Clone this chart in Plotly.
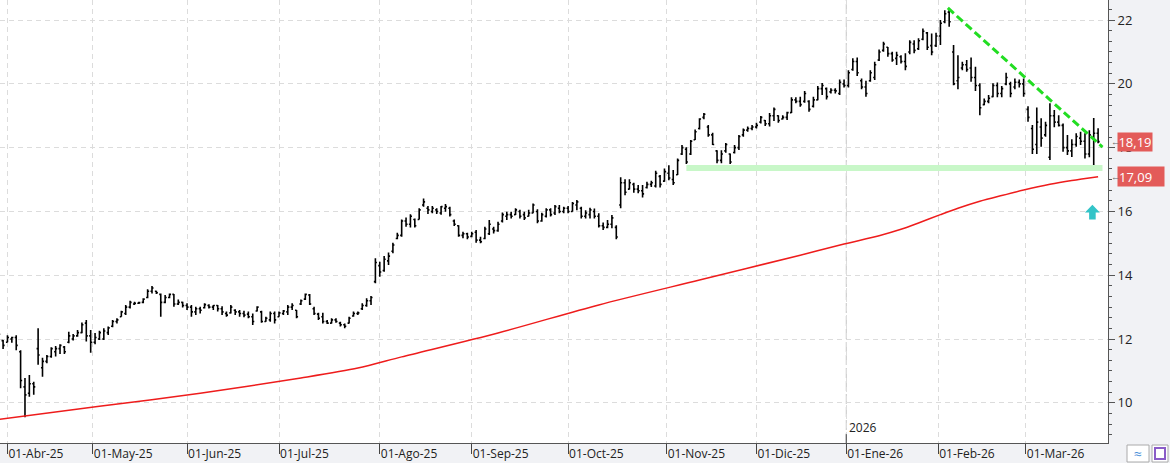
import plotly.graph_objects as go

# ---------------- data ----------------
bar_index = list(range(252))

opens = [12.10, 11.95, 11.90, 12.00, 12.05, 11.60, 10.50, 10.30, 10.60, 11.70,
         11.10, 11.30, 11.45, 11.60, 11.70, 11.75, 11.90, 12.00, 12.10, 12.20,
         12.50, 12.10, 11.90, 12.00, 12.00, 12.20, 12.40, 12.55, 12.70, 12.80,
         13.00, 13.10, 13.12, 13.15, 13.30, 13.50, 13.50, 13.40, 13.15, 13.30,
         13.40, 13.10, 13.15, 13.05, 13.00, 12.85, 12.95, 12.98, 13.05, 13.00,
         13.05, 12.95, 12.80, 12.82, 12.90, 12.85, 12.80, 12.78, 12.70, 12.88,
         12.85, 12.55, 12.60, 12.80, 12.70, 12.80, 12.85, 13.00, 12.90, 13.10,
         13.25, 13.38, 12.95, 12.78, 12.70, 12.55, 12.50, 12.60, 12.50, 12.45,
         12.50, 12.72, 12.80, 12.95, 13.05, 13.20, 13.80, 14.30, 14.15, 14.45,
         14.75, 15.15, 15.25, 15.70, 15.60, 15.75, 15.75, 16.20, 16.10, 16.00,
         16.05, 15.95, 16.10, 16.10, 15.70, 15.55, 15.25, 15.30, 15.22, 15.35,
         15.10, 15.15, 15.30, 15.45, 15.40, 15.70, 15.85, 15.90, 15.90, 16.00,
         15.90, 15.85, 15.95, 16.00, 15.70, 15.85, 16.05, 15.95, 16.10, 16.00,
         16.10, 16.00, 16.20, 16.10, 15.85, 15.90, 16.00, 15.85, 15.55, 15.50,
         15.60, 15.50, 16.20, 16.90, 16.70, 16.85, 16.70, 16.65, 16.75, 16.85,
         16.80, 17.10, 16.95, 17.20, 17.00, 17.15, 17.80, 17.95, 17.80, 18.25,
         18.60, 18.95, 18.65, 18.40, 17.90, 17.60, 17.90, 17.80, 17.85, 18.00,
         18.40, 18.55, 18.60, 18.65, 18.80, 18.85, 18.75, 19.00, 19.00, 18.90,
         18.95, 19.10, 19.50, 19.45, 19.45, 19.45, 19.30, 19.50, 19.85, 19.85,
         19.75, 19.80, 19.70, 20.00, 19.95, 20.45, 20.70, 20.10, 19.90, 20.10,
         20.20, 20.75, 21.05, 21.15, 20.95, 20.80, 20.85, 20.70, 21.00, 21.25,
         21.10, 21.40, 21.60, 21.20, 21.20, 21.50, 21.95, 22.25, 21.00, 20.10,
         20.50, 20.60, 20.50, 20.20, 19.95, 19.35, 19.45, 19.60, 19.95, 19.70,
         20.00, 20.00, 19.90, 20.05, 20.00, 19.20, 18.60, 18.10, 18.65, 18.40,
         17.70, 19.00, 18.80, 18.70, 18.00, 17.90, 18.10, 18.30, 18.20, 17.80,
         18.30, 18.45]

highs = [12.19, 11.97, 12.12, 12.07, 12.12, 11.65, 10.78, 10.87, 10.66, 12.34,
         11.41, 11.50, 11.74, 11.78, 11.84, 11.78, 12.23, 12.16, 12.28, 12.52,
         12.60, 12.28, 12.19, 12.26, 12.34, 12.39, 12.60, 12.65, 12.89, 13.07,
         13.20, 13.17, 13.17, 13.28, 13.56, 13.66, 13.51, 13.43, 13.38, 13.43,
         13.41, 13.24, 13.17, 13.12, 13.07, 13.01, 13.01, 13.12, 13.09, 13.07,
         13.07, 13.03, 12.86, 13.07, 12.93, 12.91, 12.89, 12.86, 12.80, 13.03,
         12.89, 12.70, 12.86, 12.86, 12.86, 12.91, 13.07, 13.12, 12.91, 13.24,
         13.43, 13.41, 13.01, 12.82, 12.82, 12.60, 12.65, 12.65, 12.54, 12.49,
         12.70, 12.86, 12.86, 13.12, 13.28, 13.35, 14.53, 14.42, 14.60, 14.71,
         15.02, 15.33, 15.75, 15.81, 15.91, 15.78, 16.10, 16.41, 16.17, 16.17,
         16.10, 16.17, 16.23, 16.15, 15.75, 15.57, 15.36, 15.33, 15.36, 15.42,
         15.21, 15.52, 15.73, 15.52, 15.68, 15.97, 15.99, 15.99, 16.10, 16.05,
         15.99, 16.05, 16.25, 16.07, 15.96, 16.10, 16.10, 16.20, 16.20, 16.15,
         16.17, 16.30, 16.36, 16.15, 16.04, 16.12, 16.09, 15.94, 15.65, 15.73,
         15.89, 15.57, 17.07, 17.01, 17.01, 16.90, 16.83, 16.83, 16.93, 16.96,
         17.28, 17.14, 17.35, 17.45, 17.30, 17.66, 18.08, 18.01, 18.24, 18.57,
         18.92, 19.09, 18.71, 18.47, 17.92, 17.92, 18.15, 17.82, 18.08, 18.40,
         18.60, 18.66, 18.71, 18.78, 18.99, 18.87, 19.09, 19.26, 19.02, 19.02,
         19.13, 19.58, 19.58, 19.60, 19.78, 19.49, 19.60, 19.93, 20.03, 19.89,
         19.86, 19.86, 20.14, 20.14, 20.43, 20.80, 20.83, 20.17, 20.10, 20.43,
         20.69, 21.08, 21.32, 21.16, 21.01, 21.01, 20.90, 20.96, 21.37, 21.37,
         21.43, 21.74, 21.63, 21.58, 21.60, 22.00, 22.31, 22.37, 21.22, 20.90,
         20.69, 20.75, 20.83, 20.54, 20.02, 19.54, 19.65, 20.02, 20.04, 19.93,
         20.35, 20.07, 20.17, 20.14, 20.17, 19.30, 18.71, 19.26, 18.92, 18.81,
         19.39, 19.18, 19.02, 18.76, 18.40, 18.26, 18.45, 18.50, 18.45, 18.55,
         18.93, 18.61]

lows = [12.06, 11.69, 11.90, 11.88, 11.65, 10.46, 9.55, 10.19, 10.25, 11.19,
        10.82, 11.24, 11.41, 11.45, 11.53, 11.53, 11.87, 11.95, 12.07, 12.18,
        11.92, 11.57, 11.84, 11.97, 11.97, 12.13, 12.37, 12.49, 12.70, 12.75,
        12.96, 13.07, 13.10, 13.12, 13.28, 13.43, 13.41, 12.70, 13.12, 13.28,
        13.01, 13.07, 12.99, 12.91, 12.70, 12.75, 12.80, 12.96, 12.96, 12.91,
        12.86, 12.75, 12.70, 12.80, 12.75, 12.70, 12.68, 12.65, 12.44, 12.86,
        12.51, 12.54, 12.54, 12.49, 12.70, 12.75, 12.75, 12.91, 12.65, 13.07,
        13.22, 13.07, 12.75, 12.60, 12.49, 12.47, 12.49, 12.51, 12.39, 12.34,
        12.49, 12.70, 12.75, 12.91, 13.01, 13.07, 13.75, 13.95, 14.11, 14.32,
        14.69, 15.13, 15.21, 15.52, 15.50, 15.50, 15.75, 16.15, 15.92, 15.94,
        15.92, 15.90, 15.99, 15.84, 15.54, 15.21, 15.16, 15.13, 15.19, 15.02,
        15.00, 15.13, 15.26, 15.31, 15.36, 15.65, 15.73, 15.78, 15.89, 15.78,
        15.73, 15.84, 15.94, 15.63, 15.68, 15.81, 15.84, 15.89, 15.94, 15.94,
        15.94, 15.99, 16.04, 15.78, 15.78, 15.78, 15.78, 15.50, 15.42, 15.47,
        15.47, 15.13, 16.10, 16.51, 16.69, 16.59, 16.57, 16.44, 16.72, 16.77,
        16.75, 16.75, 16.93, 16.98, 16.83, 17.14, 17.77, 17.49, 17.77, 18.24,
        18.57, 18.89, 18.34, 18.08, 17.51, 17.51, 17.84, 17.49, 17.82, 17.93,
        18.34, 18.50, 18.55, 18.60, 18.76, 18.68, 18.66, 18.84, 18.78, 18.88,
        18.87, 19.09, 19.39, 19.28, 19.41, 19.13, 19.26, 19.49, 19.65, 19.51,
        19.70, 19.70, 19.65, 19.89, 19.89, 20.41, 20.25, 19.83, 19.60, 20.07,
        20.12, 20.72, 21.01, 20.85, 20.69, 20.59, 20.64, 20.43, 20.93, 20.96,
        21.06, 21.37, 21.06, 20.90, 21.16, 21.22, 21.90, 21.79, 19.96, 19.83,
        20.43, 20.38, 20.07, 19.78, 19.02, 19.33, 19.39, 19.58, 19.58, 19.58,
        19.96, 19.58, 19.83, 19.89, 19.60, 18.81, 17.80, 17.80, 18.03, 18.34,
        17.61, 18.64, 18.66, 17.87, 17.77, 17.71, 18.03, 18.08, 17.66, 17.70,
        17.39, 18.14]

closes = [12.15, 11.80, 12.05, 12.05, 11.80, 10.70, 10.25, 10.60, 10.50, 11.50,
          11.30, 11.45, 11.70, 11.70, 11.80, 11.60, 12.10, 12.10, 12.20, 12.45,
          12.10, 11.90, 12.05, 12.20, 12.25, 12.35, 12.55, 12.60, 12.85, 13.00,
          13.15, 13.12, 13.14, 13.25, 13.50, 13.60, 13.45, 13.15, 13.30, 13.40,
          13.10, 13.15, 13.05, 13.00, 12.85, 12.95, 12.90, 13.08, 13.00, 13.05,
          12.95, 12.85, 12.75, 13.00, 12.85, 12.80, 12.75, 12.70, 12.55, 13.00,
          12.55, 12.65, 12.80, 12.60, 12.82, 12.88, 13.00, 13.05, 12.70, 13.20,
          13.40, 13.10, 12.80, 12.65, 12.55, 12.50, 12.60, 12.55, 12.45, 12.40,
          12.65, 12.80, 12.82, 13.05, 13.20, 13.30, 14.40, 14.10, 14.50, 14.60,
          14.95, 15.25, 15.70, 15.60, 15.85, 15.55, 16.05, 16.30, 16.05, 16.10,
          16.00, 16.15, 16.15, 15.90, 15.60, 15.25, 15.30, 15.20, 15.30, 15.10,
          15.05, 15.45, 15.60, 15.40, 15.60, 15.90, 15.90, 15.85, 16.05, 15.85,
          15.80, 15.95, 16.20, 15.70, 15.90, 16.05, 15.90, 16.15, 16.00, 16.10,
          16.00, 16.25, 16.30, 15.85, 15.95, 16.05, 15.85, 15.55, 15.50, 15.60,
          15.80, 15.20, 16.90, 16.60, 16.90, 16.70, 16.65, 16.55, 16.85, 16.90,
          17.20, 16.85, 17.25, 17.05, 16.90, 17.60, 18.00, 17.55, 18.20, 18.50,
          18.90, 19.05, 18.40, 18.10, 17.60, 17.80, 18.10, 17.55, 18.00, 18.35,
          18.55, 18.60, 18.65, 18.70, 18.95, 18.75, 19.00, 19.20, 18.85, 18.95,
          19.10, 19.50, 19.45, 19.35, 19.70, 19.20, 19.50, 19.85, 19.95, 19.60,
          19.80, 19.78, 20.05, 19.95, 20.35, 20.70, 20.35, 19.90, 19.70, 20.35,
          20.60, 21.00, 21.25, 20.95, 20.75, 20.90, 20.70, 20.55, 21.30, 21.05,
          21.35, 21.65, 21.15, 21.00, 21.50, 21.90, 22.20, 21.95, 20.00, 20.20,
          20.60, 20.45, 20.20, 19.95, 19.25, 19.45, 19.55, 19.95, 19.70, 19.85,
          20.20, 19.70, 20.05, 20.00, 19.70, 18.95, 17.95, 18.80, 18.30, 18.70,
          19.00, 18.80, 18.70, 18.00, 17.90, 18.10, 18.35, 18.20, 17.80, 18.40,
          18.45, 18.19]

# 200-session moving average, read at selected sessions
ma_index = [0, 23, 46, 69, 82, 92, 114, 137, 160, 183, 193, 201, 206, 210, 215,
            219, 224, 229, 234, 240, 245, 251]
ma_value = [9.48, 9.89, 10.30, 10.78, 11.09, 11.44, 12.19, 13.07, 13.85, 14.63,
            14.98, 15.24, 15.44, 15.64, 15.90, 16.10, 16.32, 16.50, 16.67, 16.85,
            16.97, 17.09]

# month ticks (session positions) and labels
month_pos = [2, 21.5, 43, 64, 87, 108, 130, 152.5, 173, 193.5, 214.5, 234.5]
month_labels = ["01-Abr-25", "01-May-25", "01-Jun-25", "01-Jul-25", "01-Ago-25",
                "01-Sep-25", "01-Oct-25", "01-Nov-25", "01-Dic-25", "01-Ene-26",
                "01-Feb-26", "01-Mar-26"]
year_pos = 193.5
year_label = "2026"

# drawn studies
trend_x = [216.7, 252.0]
trend_y = [22.38, 18.02]
support_x = [157.0, 252.0]
support_y = [17.36, 17.36]
signal_index = 249.7
signal_price = 15.97

last_close_label = "18,19"
ma_label = "17,09"

# ---------------- figure ----------------
fig = go.Figure()

fig.add_trace(go.Scatter(x=support_x, y=support_y, mode="lines",
                         line=dict(color="#c8f7c8", width=6), hoverinfo="skip"))

fig.add_trace(go.Scatter(x=ma_index, y=ma_value, mode="lines",
                         line=dict(color="#ee1c1c", width=1.5, shape="spline", smoothing=0.8),
                         hoverinfo="skip"))

fig.add_trace(go.Ohlc(x=bar_index, open=opens, high=highs, low=lows, close=closes,
                      increasing=dict(line=dict(color="black", width=1.6)),
                      decreasing=dict(line=dict(color="black", width=1.6)),
                      tickwidth=0.35))

fig.add_trace(go.Scatter(x=trend_x, y=trend_y, mode="lines",
                         line=dict(color="#22dd22", width=3, dash="8px,4px"),
                         hoverinfo="skip"))

# cyan signal arrow built around signal point
hw, sw, hh, sl = 1.7, 0.75, 0.24, 0.22
ax = [signal_index - hw, signal_index, signal_index + hw, signal_index + sw,
      signal_index + sw, signal_index - sw, signal_index - sw, signal_index - hw]
ay = [signal_price, signal_price + hh, signal_price, signal_price,
      signal_price - sl, signal_price - sl, signal_price, signal_price]
fig.add_trace(go.Scatter(x=ax, y=ay, mode="lines", fill="toself",
                         fillcolor="#33c4c8", line=dict(color="#33c4c8", width=0),
                         hoverinfo="skip"))

shapes = [
    dict(type="line", xref="x", yref="paper", x0=year_pos, x1=year_pos, y0=0, y1=1,
         line=dict(color="#c4c4c4", width=1, dash="10px,3px"), layer="below"),
    dict(type="line", xref="x", yref="paper", x0=year_pos, x1=year_pos, y0=0, y1=0.02,
         line=dict(color="#444", width=1)),
    dict(type="rect", xref="paper", yref="paper", x0=1127/1108, x1=1149/1108,
         y0=-19/443, y1=-2/443, line=dict(color="#aaa", width=1), fillcolor="white"),
    dict(type="rect", xref="paper", yref="paper", x0=1152/1108, x1=1168/1108,
         y0=-19/443, y1=-2/443, line=dict(color="#aaa", width=1), fillcolor="white"),
    dict(type="rect", xref="paper", yref="paper", x0=1155/1108, x1=1165/1108,
         y0=-16/443, y1=-5/443, line=dict(color="#8a5cc8", width=2), fillcolor="white"),
]

annotations = [
    dict(x=year_pos, y=0.012, xref="x", yref="paper", text=year_label, showarrow=False,
         xanchor="left", yanchor="bottom", xshift=1,
         font=dict(family="Open Sans", size=12, color="#222")),
    dict(x=1117/1108, y=18.19, xref="paper", yref="y", text=last_close_label,
         showarrow=False, xanchor="left", yanchor="middle", bgcolor="#e35b59",
         width=32, height=16, borderpad=1,
         font=dict(family="Open Sans", size=13, color="white")),
    dict(x=1117/1108, y=17.09, xref="paper", yref="y", text=ma_label,
         showarrow=False, xanchor="left", yanchor="middle", bgcolor="#e35b59",
         width=44, height=17, borderpad=1, align="left",
         font=dict(family="Open Sans", size=13, color="white")),
    dict(x=1109/1108, y=18.19, xref="paper", yref="y", text="←", showarrow=False,
         xanchor="left", yanchor="middle", font=dict(size=9, color="#666")),
    dict(x=1109/1108, y=17.09, xref="paper", yref="y", text="←", showarrow=False,
         xanchor="left", yanchor="middle", font=dict(size=9, color="#666")),
    dict(x=1138/1108, y=-10.5/443, xref="paper", yref="paper", text="≈", showarrow=False,
         xanchor="center", yanchor="middle",
         font=dict(size=14, color="#4a90d9")),
]

fig.update_layout(
    width=1170, height=463,
    margin=dict(l=0, r=62, t=0, b=20),
    paper_bgcolor="#f1f2f5", plot_bgcolor="white",
    showlegend=False,
    shapes=shapes, annotations=annotations,
    font=dict(family="Open Sans", size=12, color="#222"),
    xaxis=dict(range=[0.297, 253.26], rangeslider=dict(visible=False),
               tickmode="array", tickvals=month_pos, ticktext=month_labels,
               ticklabelposition="outside right", ticks="outside", ticklen=10,
               tickcolor="#444", showline=True, linecolor="#555", linewidth=1,
               showgrid=True, gridcolor="#dcdcdc", griddash="5px,4px",
               zeroline=False, tickfont=dict(family="Open Sans", size=12, color="#222")),
    yaxis=dict(side="right", range=[8.74, 22.63], tickmode="array",
               tickvals=[10, 12, 14, 16, 18, 20, 22], ticks="outside", ticklen=6,
               tickcolor="#555", showline=True, linecolor="#555", linewidth=1,
               showgrid=True, gridcolor="#dcdcdc", griddash="5px,4px", zeroline=False,
               minor=dict(tick0=10, dtick=1/3, ticks="outside", ticklen=3,
                          tickcolor="#555", showgrid=False),
               tickfont=dict(family="Open Sans", size=13, color="#222")),
)

fig.write_html("out.html")
